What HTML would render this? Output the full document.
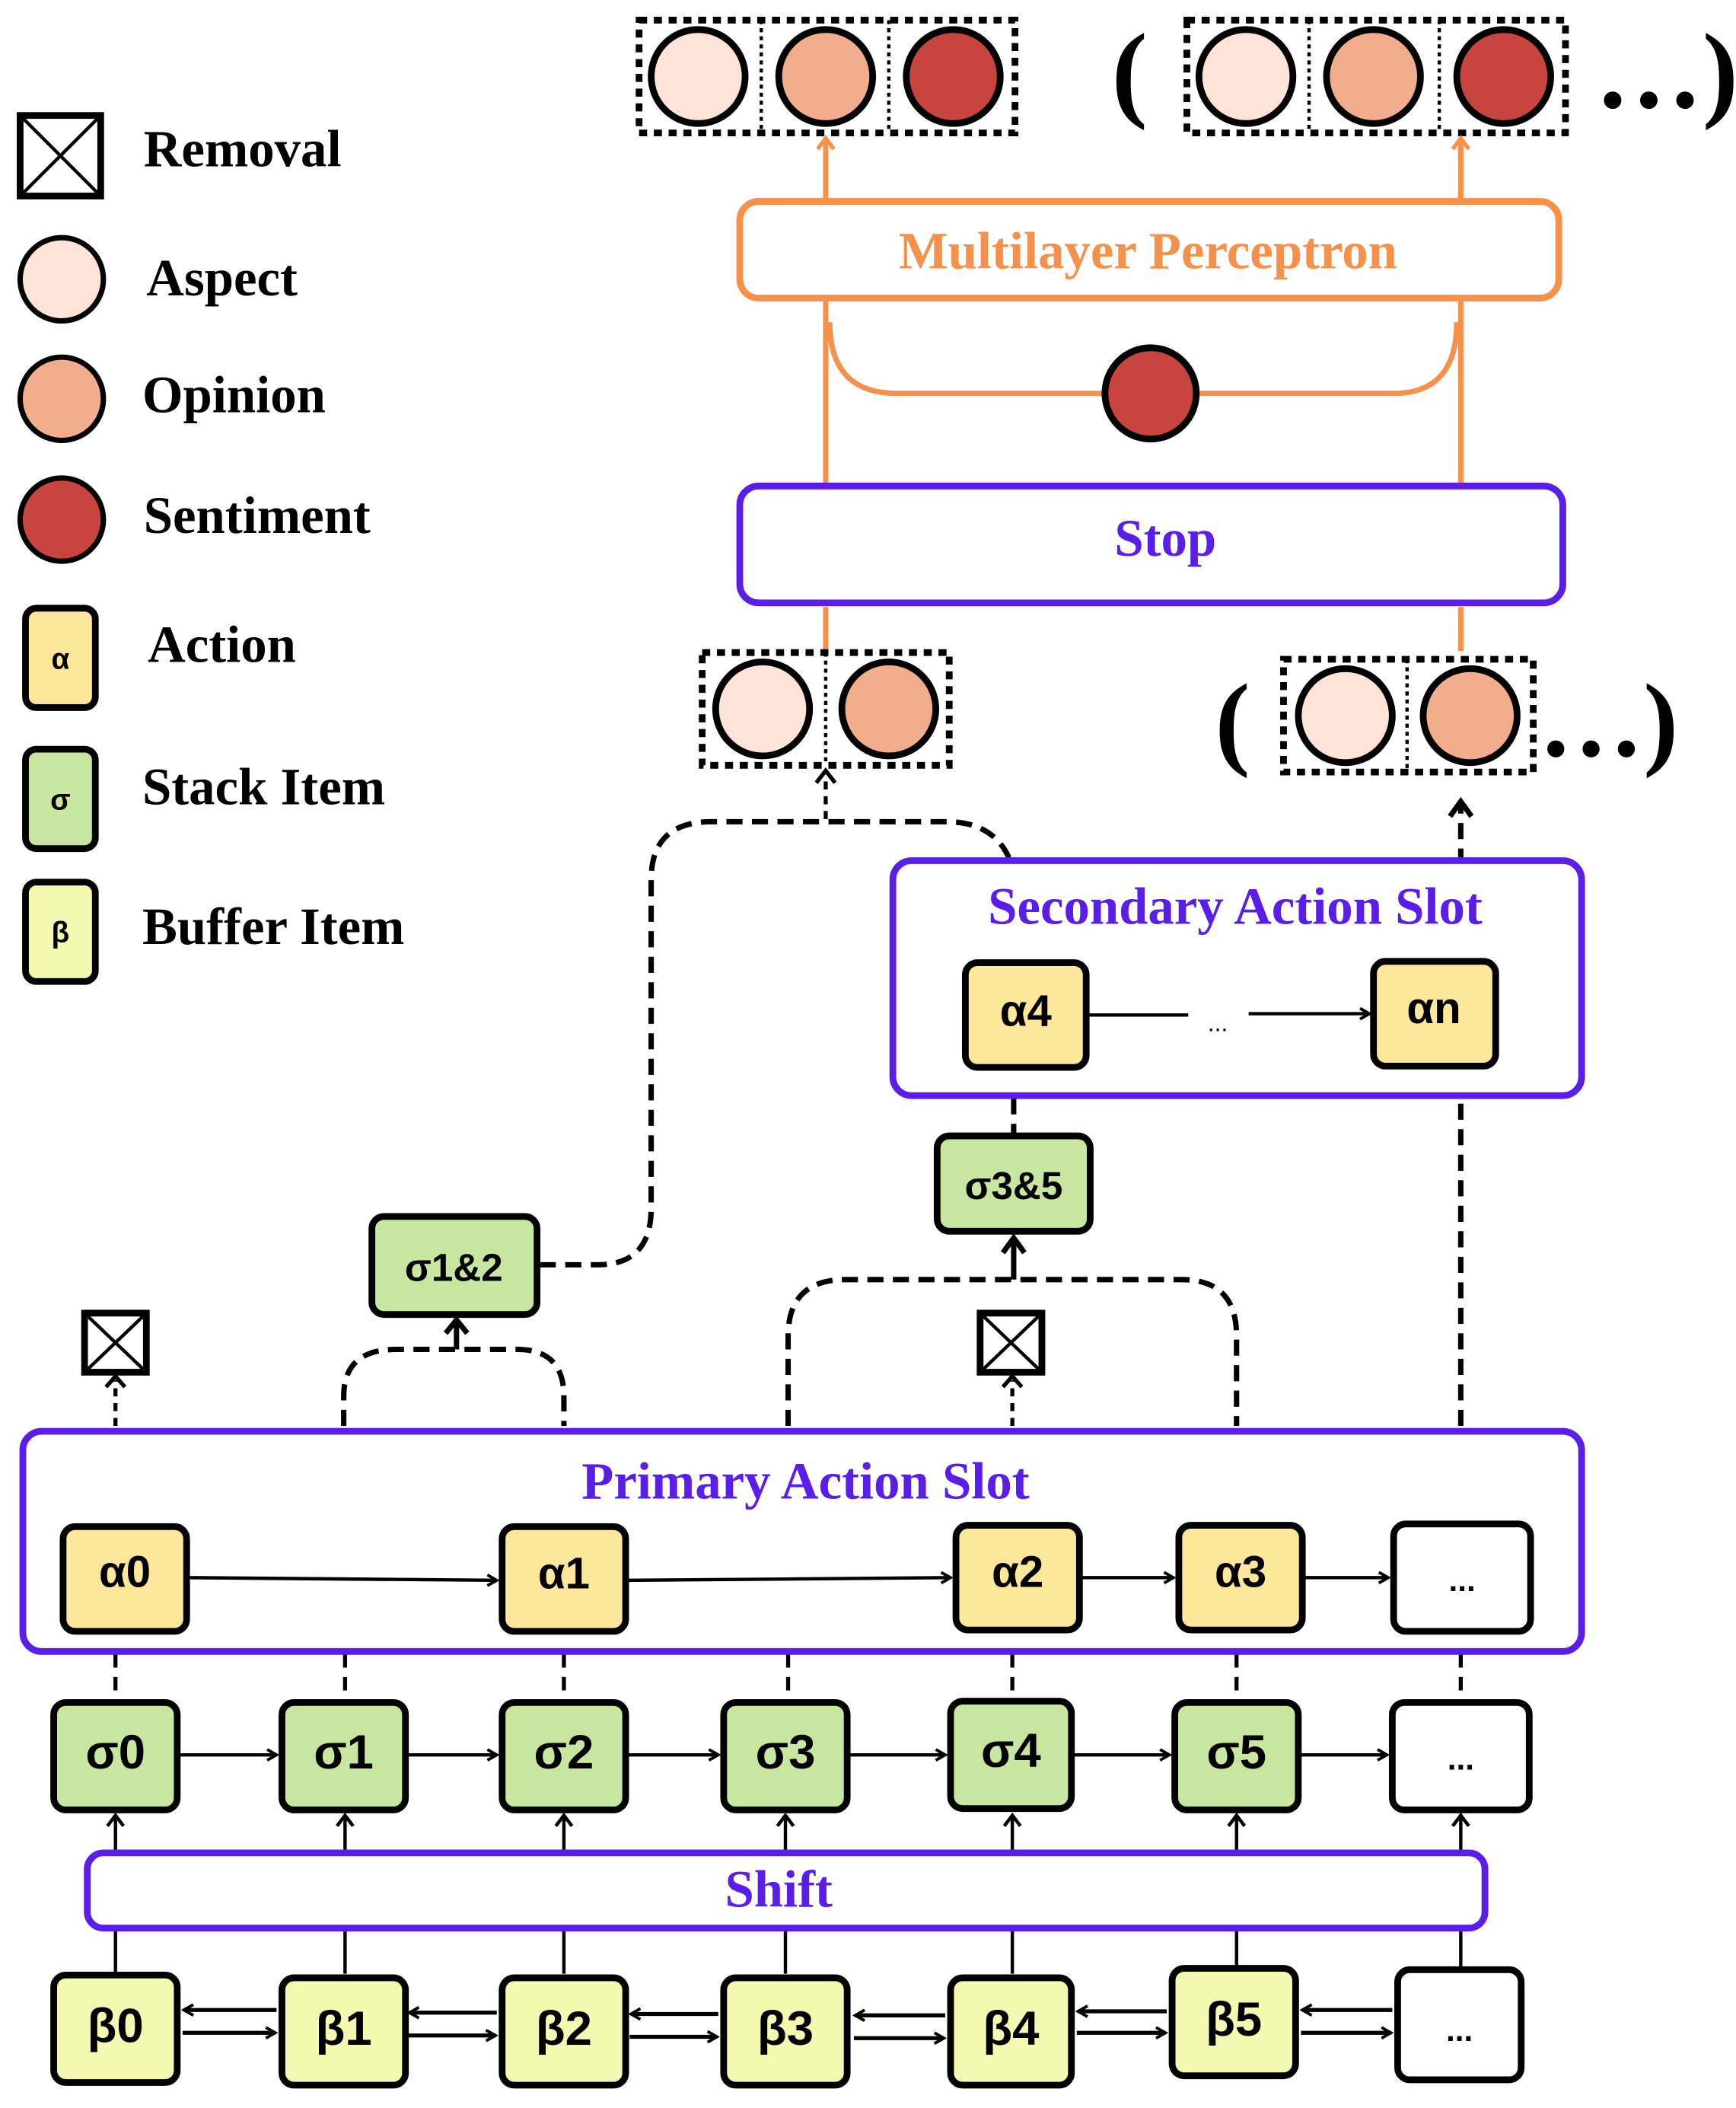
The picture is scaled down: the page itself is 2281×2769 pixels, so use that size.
<!DOCTYPE html>
<html><head><meta charset="utf-8"><style>
html,body{margin:0;padding:0;background:#fff}
svg{display:block}
.t{font-family:"Liberation Serif",serif;font-weight:bold}
.s{font-family:"Liberation Sans",sans-serif;font-weight:bold}
</style></head><body>
<svg width="2281" height="2769" viewBox="0 0 1293 1570" preserveAspectRatio="none" xmlns="http://www.w3.org/2000/svg">
<defs>
<marker id="ab" markerWidth="10" markerHeight="10" refX="8" refY="5" orient="auto" markerUnits="userSpaceOnUse"><path d="M1,1 L8,5 L1,9" fill="none" stroke="#000" stroke-width="2.2"/></marker>
<marker id="ao" markerWidth="14" markerHeight="14" refX="10" refY="7" orient="auto" markerUnits="userSpaceOnUse"><path d="M2,1 L10,7 L2,13" fill="none" stroke="#f5914a" stroke-width="3"/></marker>
</defs>
<g fill="none" stroke="#000" stroke-width="4">
<rect x="15" y="86" width="60" height="60" stroke-width="5"/>
<path d="M15,86 L75,146 M75,86 L15,146" stroke-width="2.5"/>
<circle cx="46" cy="208" r="31" fill="#fde3d8"/>
<circle cx="46" cy="297" r="31" fill="#f2ae8c"/>
<circle cx="46" cy="387" r="31" fill="#c8443e"/>
<rect x="19" y="453" width="52" height="74" rx="8" fill="#fde79a" stroke-width="5"/>
<rect x="19" y="558" width="52" height="74" rx="8" fill="#c8e6a0" stroke-width="5"/>
<rect x="19" y="657" width="52" height="74" rx="8" fill="#f5f8b0" stroke-width="5"/>
</g>
<g class="t" font-size="39" fill="#000">
<text x="107" y="124">Removal</text>
<text x="109" y="220">Aspect</text>
<text x="106" y="307">Opinion</text>
<text x="107" y="397">Sentiment</text>
<text x="110" y="493">Action</text>
<text x="106" y="599">Stack Item</text>
<text x="106" y="703">Buffer Item</text>
</g>
<g class="s" font-size="22" text-anchor="middle"><text x="45" y="498">α</text><text x="45" y="603">σ</text><text x="45" y="702">β</text></g>

<g fill="none" stroke="#000">
<rect x="476" y="15" width="280" height="84" stroke-width="5" stroke-dasharray="6,5"/>
<path d="M567,15 V99 M662,15 V99" stroke-width="2.5" stroke-dasharray="3,3"/>
<circle cx="520" cy="57" r="35" fill="#fde3d8" stroke-width="5"/>
<circle cx="615" cy="57" r="35" fill="#f2ae8c" stroke-width="5"/>
<circle cx="710" cy="57" r="35" fill="#c8443e" stroke-width="5"/>
<rect x="884" y="15" width="282" height="84" stroke-width="5" stroke-dasharray="6,5"/>
<path d="M975,15 V99 M1072,15 V99" stroke-width="2.5" stroke-dasharray="3,3"/>
<circle cx="928" cy="57" r="35" fill="#fde3d8" stroke-width="5"/>
<circle cx="1023" cy="57" r="35" fill="#f2ae8c" stroke-width="5"/>
<circle cx="1120" cy="57" r="35" fill="#c8443e" stroke-width="5"/>
</g>
<text x="828" y="80" class="t" font-size="80" font-weight="normal">(</text>
<text x="1188" y="80" class="t" font-size="80" font-weight="normal">…)</text>

<g fill="none" stroke="#f5914a" stroke-width="4">
<path d="M615,150 V103" marker-end="url(#ao)"/>
<path d="M1088,150 V103" marker-end="url(#ao)"/>
<rect x="551" y="150" width="610" height="72" rx="14" fill="#fff" stroke-width="5"/>
<path d="M615,222 V360 M1088,222 V360 M615,485 V452 M1088,485 V452"/>
<path d="M618,240 Q618,293 668,293 H1038 Q1085,293 1085,240"/>
</g>
<text x="855" y="200" class="t" font-size="39" fill="#f5914a" text-anchor="middle">Multilayer Perceptron</text>
<circle cx="857" cy="293" r="34" fill="#c8443e" stroke="#000" stroke-width="5"/>
<rect x="551" y="362" width="613" height="87" rx="14" fill="#fff" stroke="#5b1ee8" stroke-width="5"/>
<text x="868" y="414" class="t" font-size="39" fill="#5b1ee8" text-anchor="middle">Stop</text>

<g fill="none" stroke="#000">
<rect x="523" y="486" width="184" height="84" stroke-width="5" stroke-dasharray="6,5"/>
<path d="M615,486 V570" stroke-width="2.5" stroke-dasharray="3,3"/>
<circle cx="568" cy="528" r="35" fill="#fde3d8" stroke-width="5"/>
<circle cx="662" cy="528" r="35" fill="#f2ae8c" stroke-width="5"/>
<rect x="956" y="491" width="186" height="84" stroke-width="5" stroke-dasharray="6,5"/>
<path d="M1048,491 V575" stroke-width="2.5" stroke-dasharray="3,3"/>
<circle cx="1002" cy="533" r="35" fill="#fde3d8" stroke-width="5"/>
<circle cx="1095" cy="533" r="35" fill="#f2ae8c" stroke-width="5"/>
</g>
<text x="905" y="563" class="t" font-size="78" font-weight="normal">(</text>
<text x="1146" y="563" class="t" font-size="78" font-weight="normal">…)</text>

<g fill="none" stroke="#000" stroke-width="4" stroke-dasharray="12,7">
<path d="M402,942 H445 Q485,942 485,900 V655 Q485,612 530,612 H705 Q740,612 752,640"/>
<path d="M1088,1062 V600"/>
<path d="M256,1062 V1040 Q256,1005 295,1005 H385 Q420,1005 420,1040 V1062"/>
<path d="M587,1062 V995 Q587,953 630,953 H880 Q921,953 921,995 V1062"/>
<path d="M755,818 V845"/>
</g>
<g fill="none" stroke="#000" stroke-width="3" stroke-dasharray="6,5">
<path d="M615,610 V578"/>
<path d="M86,1062 V1028"/>
<path d="M754,1062 V1028"/>
</g>
<g fill="none" stroke="#000" stroke-width="3">
<path d="M608,583 L615,574 L622,583"/>
<path d="M79,1033 L86,1025 L93,1033"/>
<path d="M747,1033 L754,1025 L761,1033"/>
<path d="M1080,608 L1088,597 L1096,608" stroke-width="4"/>
<path d="M340,1005 V985 M332,993 L340,983 L348,993" stroke-width="4"/>
<path d="M755,953 V924 M747,933 L755,922 L763,933" stroke-width="4"/>
</g>
<g fill="#fff" stroke="#000">
<rect x="63" y="978" width="46" height="44" stroke-width="5"/>
<path d="M63,978 L109,1022 M109,978 L63,1022" stroke-width="2.5"/>
<rect x="730" y="978" width="46" height="44" stroke-width="5"/>
<path d="M730,978 L776,1022 M776,978 L730,1022" stroke-width="2.5"/>
</g>
<rect x="277" y="906" width="123" height="73" rx="9" fill="#c8e6a0" stroke="#000" stroke-width="5"/>
<text x="338" y="954" class="s" font-size="29" text-anchor="middle">σ1&amp;2</text>
<rect x="698" y="846" width="114" height="71" rx="9" fill="#c8e6a0" stroke="#000" stroke-width="5"/>
<text x="755" y="893" class="s" font-size="29" text-anchor="middle">σ3&amp;5</text>

<rect x="665" y="641" width="513" height="175" rx="14" fill="#fff" stroke="#5b1ee8" stroke-width="5"/>
<text x="920" y="688" class="t" font-size="39" fill="#5b1ee8" text-anchor="middle">Secondary Action Slot</text>
<rect x="719" y="717" width="90" height="78" rx="9" fill="#fde79a" stroke="#000" stroke-width="5"/>
<rect x="1023" y="716" width="91" height="78" rx="9" fill="#fde79a" stroke="#000" stroke-width="5"/>
<text x="764" y="764" class="s" font-size="33" text-anchor="middle">α4</text>
<text x="1068" y="762" class="s" font-size="33" text-anchor="middle">αn</text>
<g stroke="#000" stroke-width="2.5" fill="none"><path d="M811,756 H885"/><path d="M930,755 H1020" marker-end="url(#ab)"/></g>
<text x="907" y="768" font-family="Liberation Sans" font-size="18" text-anchor="middle">...</text>

<g stroke="#000" stroke-width="3" stroke-dasharray="10,7">
<path d="M86,1232 V1266 M257,1232 V1266 M420,1232 V1266 M587,1232 V1266 M754,1232 V1266 M921,1232 V1266 M1088,1232 V1266"/>
</g>
<rect x="17" y="1066" width="1161" height="164" rx="14" fill="#fff" stroke="#5b1ee8" stroke-width="5"/>
<text x="600" y="1116" class="t" font-size="39" fill="#5b1ee8" text-anchor="middle">Primary Action Slot</text>
<g stroke="#000" stroke-width="5">
<rect x="47" y="1137" width="92" height="78" rx="9" fill="#fde79a"/>
<rect x="374" y="1137" width="92" height="78" rx="9" fill="#fde79a"/>
<rect x="712" y="1136" width="92" height="78" rx="9" fill="#fde79a"/>
<rect x="878" y="1136" width="92" height="78" rx="9" fill="#fde79a"/>
<rect x="1038" y="1135" width="102" height="80" rx="9" fill="#fff"/>
</g>
<g stroke="#000" stroke-width="2.5" fill="none">
<path d="M141,1175 L370,1177" marker-end="url(#ab)"/>
<path d="M468,1177 L708,1175" marker-end="url(#ab)"/>
<path d="M806,1175 H874" marker-end="url(#ab)"/>
<path d="M972,1175 H1034" marker-end="url(#ab)"/>
</g>
<g class="s" font-size="33" text-anchor="middle">
<text x="93" y="1182">α0</text><text x="420" y="1183">α1</text><text x="758" y="1182">α2</text><text x="924" y="1182">α3</text><text x="1089" y="1185" font-size="24">...</text>
</g>

<g stroke="#000" stroke-width="5">
<rect x="40" y="1268" width="92" height="80" rx="9" fill="#c8e6a0"/>
<rect x="210" y="1268" width="92" height="80" rx="9" fill="#c8e6a0"/>
<rect x="374" y="1268" width="92" height="80" rx="9" fill="#c8e6a0"/>
<rect x="539" y="1268" width="92" height="80" rx="9" fill="#c8e6a0"/>
<rect x="708" y="1267" width="90" height="80" rx="9" fill="#c8e6a0"/>
<rect x="875" y="1268" width="92" height="80" rx="9" fill="#c8e6a0"/>
<rect x="1037" y="1268" width="102" height="80" rx="9" fill="#fff"/>
</g>
<g stroke="#000" stroke-width="2.5" fill="none">
<path d="M134,1307 H206" marker-end="url(#ab)"/>
<path d="M304,1307 H370" marker-end="url(#ab)"/>
<path d="M468,1307 H535" marker-end="url(#ab)"/>
<path d="M633,1307 H704" marker-end="url(#ab)"/>
<path d="M800,1307 H871" marker-end="url(#ab)"/>
<path d="M969,1307 H1033" marker-end="url(#ab)"/>
<path d="M86,1380 V1352 M257,1380 V1352 M420,1380 V1352 M585,1380 V1352 M754,1380 V1352 M921,1380 V1352 M1088,1380 V1352"/>
<path d="M80,1360 L86,1352 L92,1360 M251,1360 L257,1352 L263,1360 M414,1360 L420,1352 L426,1360 M579,1360 L585,1352 L591,1360 M748,1360 L754,1352 L760,1360 M915,1360 L921,1352 L927,1360 M1082,1360 L1088,1352 L1094,1360"/>
<path d="M86,1437 V1470 M257,1437 V1470 M420,1437 V1470 M585,1437 V1470 M754,1437 V1470 M921,1437 V1466 M1088,1437 V1466"/>
</g>
<g class="s" font-size="36" text-anchor="middle">
<text x="86" y="1317">σ0</text><text x="256" y="1317">σ1</text><text x="420" y="1317">σ2</text><text x="585" y="1317">σ3</text><text x="753" y="1316">σ4</text><text x="921" y="1317">σ5</text><text x="1088" y="1318" font-size="24">...</text>
</g>

<rect x="65" y="1380" width="1041" height="56" rx="12" fill="#fff" stroke="#5b1ee8" stroke-width="5"/>
<text x="580" y="1420" class="t" font-size="39" fill="#5b1ee8" text-anchor="middle">Shift</text>

<g stroke="#000" stroke-width="5">
<rect x="40" y="1471" width="92" height="80" rx="9" fill="#f5f8b0"/>
<rect x="210" y="1473" width="92" height="80" rx="9" fill="#f5f8b0"/>
<rect x="374" y="1473" width="92" height="80" rx="9" fill="#f5f8b0"/>
<rect x="539" y="1473" width="92" height="80" rx="9" fill="#f5f8b0"/>
<rect x="708" y="1473" width="90" height="80" rx="9" fill="#f5f8b0"/>
<rect x="873" y="1466" width="92" height="80" rx="9" fill="#f5f8b0"/>
<rect x="1041" y="1467" width="92" height="82" rx="9" fill="#fff"/>
</g>
<g stroke="#000" stroke-width="3" fill="none">
<path d="M206,1497 H137" marker-end="url(#ab)"/><path d="M136,1514 H205" marker-end="url(#ab)"/>
<path d="M370,1499 H305" marker-end="url(#ab)"/><path d="M304,1516 H369" marker-end="url(#ab)"/>
<path d="M535,1500 H470" marker-end="url(#ab)"/><path d="M469,1517 H534" marker-end="url(#ab)"/>
<path d="M704,1501 H637" marker-end="url(#ab)"/><path d="M636,1518 H703" marker-end="url(#ab)"/>
<path d="M869,1498 H803" marker-end="url(#ab)"/><path d="M802,1514 H868" marker-end="url(#ab)"/>
<path d="M1037,1497 H970" marker-end="url(#ab)"/><path d="M969,1514 H1036" marker-end="url(#ab)"/>
</g>
<g class="s" font-size="36" text-anchor="middle">
<text x="86" y="1521">β0</text><text x="256" y="1523">β1</text><text x="420" y="1523">β2</text><text x="585" y="1523">β3</text><text x="753" y="1523">β4</text><text x="919" y="1516">β5</text><text x="1087" y="1520" font-size="24">...</text>
</g>
</svg>
</body></html>
